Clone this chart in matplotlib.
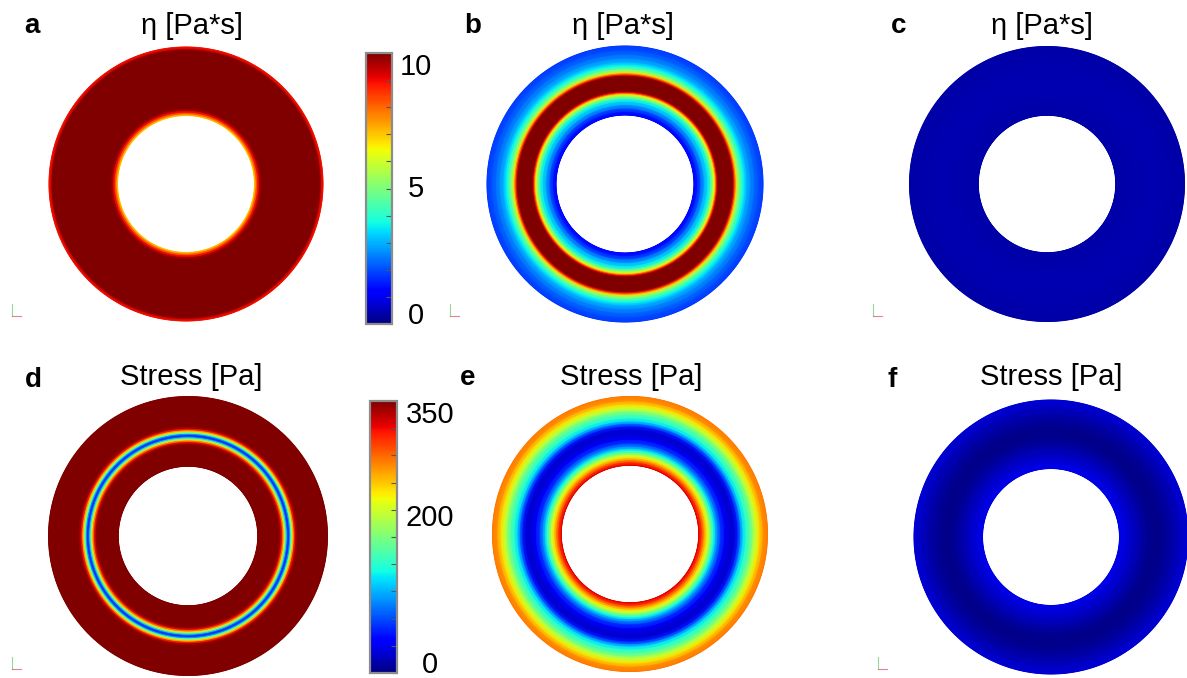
import numpy as np
import matplotlib
matplotlib.use('Agg')
import matplotlib.pyplot as plt
from matplotlib.lines import Line2D
from matplotlib.colors import Normalize
from matplotlib.cm import ScalarMappable
from matplotlib.transforms import blended_transform_factory

plt.rcParams['font.family'] = ['Liberation Sans', 'DejaVu Sans']

# ---------------- data (radial profiles, s = 0 inner wall -> 1 outer wall) -------------
eta_a_s = [0.0, 0.025, 0.05, 0.08, 0.11, 0.955, 0.975, 1.0]
eta_a = [6.8, 7.8, 8.8, 9.6, 10.0, 10.0, 9.4, 8.8]

eta_b_s = [0.0, 0.05, 0.10, 0.15, 0.20, 0.24, 0.27, 0.30, 0.315, 0.33, 0.345, 0.36,
           0.56, 0.575, 0.595, 0.615, 0.64, 0.675, 0.71, 0.74, 0.77, 0.82, 0.88, 0.94, 1.0]
eta_b = [1.1, 1.5, 2.2, 2.9, 3.5, 4.2, 5.2, 6.5, 7.6, 8.8, 9.7, 10.0,
         10.0, 9.4, 8.2, 6.8, 5.5, 4.5, 3.8, 3.4, 3.0, 2.65, 2.3, 2.0, 1.8]

eta_c_s = [0.0, 0.5, 1.0]
eta_c = [0.35, 0.5, 0.35]

stress_d_s = [0.0, 0.30, 0.33, 0.355, 0.38, 0.405, 0.425, 0.44, 0.455, 0.475, 0.50, 0.525, 0.55, 0.58, 1.0]
stress_d = [350, 350, 335, 300, 235, 150, 85, 55, 75, 140, 230, 300, 335, 350, 350]

stress_e_s = [0.0, 0.015, 0.05, 0.08, 0.11, 0.135, 0.16, 0.19, 0.22, 0.25, 0.28, 0.32, 0.38, 0.45,
              0.52, 0.57, 0.61, 0.646, 0.69, 0.74, 0.79, 0.84, 0.89, 0.937, 1.0]
stress_e = [322, 315, 290, 265, 238, 215, 192, 162, 133, 108, 88, 65, 42, 25,
            28, 55, 90, 120, 140, 157, 185, 215, 240, 262, 275]

stress_f_s = [0.0, 0.1, 0.2, 0.3, 0.4, 0.5, 0.6, 0.7, 0.8, 0.9, 1.0]
stress_f = [34, 28, 21, 14, 8, 4, 5, 9, 15, 21, 27]

eta_ticks = [0, 5, 10]
stress_ticks = [0, 200, 350]
eta_max = 10
stress_max = 350

titles = ['η [Pa*s]', 'η [Pa*s]', 'η [Pa*s]', 'Stress [Pa]', 'Stress [Pa]', 'Stress [Pa]']
letters = ['a', 'b', 'c', 'd', 'e', 'f']

# ---------------- layout ----------------
W, H = 1187, 678
fig = plt.figure(figsize=(W / 100, H / 100), dpi=100)

R_IN = 0.5


def panel_axes(cx, cy, R):
    pad = 1.03
    half = R * pad
    ax = fig.add_axes([(cx - half) / W, 1 - (cy + half) / H, 2 * half / W, 2 * half / H])
    ax.set_xlim(-pad, pad)
    ax.set_ylim(-pad, pad)
    ax.set_axis_off()
    return ax


def draw_annulus(ax, s, vals, vmax):
    theta = np.linspace(0, 2 * np.pi, 721)
    r = R_IN + (1 - R_IN) * np.asarray(s, dtype=float)
    T, RR = np.meshgrid(theta, r)
    X = RR * np.cos(T)
    Y = RR * np.sin(T)
    C = np.repeat(np.asarray(vals, dtype=float)[:, None], len(theta), axis=1)
    ax.pcolormesh(X, Y, C, shading='gouraud', cmap='jet', vmin=0, vmax=vmax,
                  antialiased=True)


def colorbar(x0, y0, x1, y1, vmax, ticks, label_cx):
    cax = fig.add_axes([x0 / W, 1 - y1 / H, (x1 - x0) / W, (y1 - y0) / H])
    sm = ScalarMappable(norm=Normalize(0, vmax), cmap='jet')
    cb = fig.colorbar(sm, cax=cax)
    cb.outline.set_edgecolor('#8c8c8c')
    cb.outline.set_linewidth(1.6)
    cb.set_ticks(np.linspace(0, vmax, 11))
    cax.set_yticklabels([])
    cax.tick_params(axis='y', direction='in', length=4, width=0.8, color='#555555',
                    right=True, left=False)
    tr = blended_transform_factory(fig.transFigure, cax.transData)
    for i, t in enumerate(ticks):
        va = 'top' if i == len(ticks) - 1 else ('baseline' if i == 0 else 'center')
        cax.text(label_cx / W, t, str(t), transform=tr, ha='center', va=va,
                 fontsize=21, color='black')
    return cb


panels = [
    ((186, 184, 137), eta_a_s, eta_a, eta_max),
    ((625, 184, 138), eta_b_s, eta_b, eta_max),
    ((1047, 184, 137.5), eta_c_s, eta_c, eta_max),
    ((188, 536, 139.5), stress_d_s, stress_d, stress_max),
    ((630, 534, 137.5), stress_e_s, stress_e, stress_max),
    ((1051, 537, 137), stress_f_s, stress_f, stress_max),
]

for (geom, s, v, vmax) in panels:
    ax = panel_axes(*geom)
    draw_annulus(ax, s, v, vmax)

colorbar(366, 53, 392, 324, eta_max, eta_ticks, 416)
colorbar(370, 401, 397, 673, stress_max, stress_ticks, 430)

# titles and panel letters
title_pos = [(192, 34), (623, 34), (1042, 34), (191, 385), (631, 385), (1051, 385)]
letter_pos = [(24, 33), (464, 33), (891, 33), (25, 387), (460, 385), (888, 387)]
for t, (x, y) in zip(titles, title_pos):
    fig.text(x / W, 1 - y / H, t, ha='center', va='baseline', fontsize=21)
for l, (x, y) in zip(letters, letter_pos):
    fig.text(x / W, 1 - y / H, l, ha='left', va='baseline', fontsize=20, fontweight='bold')

# small orientation triads (decoration)
for (x, y) in [(12, 316), (450, 316), (873, 316), (12, 669), (878, 669)]:
    fig.add_artist(Line2D([x / W, x / W], [1 - y / H, 1 - (y - 12) / H],
                          transform=fig.transFigure, color='#7ccf7c', lw=0.8, alpha=0.8))
    fig.add_artist(Line2D([x / W, (x + 9) / W], [1 - y / H, 1 - y / H],
                          transform=fig.transFigure, color='#e06080', lw=0.8, alpha=0.8))

fig.savefig('out.png', dpi=100, facecolor='white')
